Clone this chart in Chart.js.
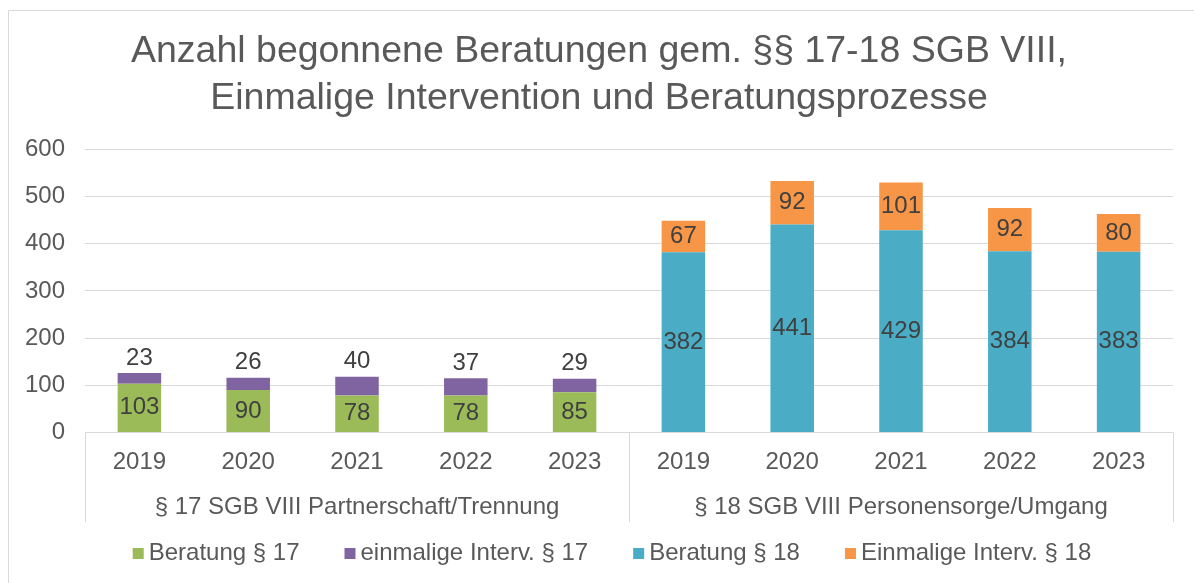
<!DOCTYPE html>
<html>
<head>
<meta charset="utf-8">
<script src="https://cdn.jsdelivr.net/npm/chart.js@4.4.0/dist/chart.umd.min.js"></script>
<style>
	html, body { margin: 0; padding: 0; background: #fff; }
	#wrap { width: 1194px; height: 583px; }
</style>
</head>
<body>
<div id="wrap"><canvas id="myChart" width="1194" height="583"></canvas></div>
<script>
const years = ["2019", "2020", "2021", "2022", "2023", "2019", "2020", "2021", "2022", "2023"];
const groups = ["§ 17 SGB VIII Partnerschaft/Trennung", "§ 18 SGB VIII Personensorge/Umgang"];
const beratung17 = [103, 90, 78, 78, 85, null, null, null, null, null];
const interv17 = [23, 26, 40, 37, 29, null, null, null, null, null];
const beratung18 = [null, null, null, null, null, 382, 441, 429, 384, 383];
const interv18 = [null, null, null, null, null, 67, 92, 101, 92, 80];
const titleLines = ["Anzahl begonnene Beratungen gem. §§ 17-18 SGB VIII,", "Einmalige Intervention und Beratungsprozesse"];

const FONT = "'Liberation Sans', Arial, sans-serif";
const GREY = "#595959";

// white background and the light frame (top and left edge only)
const frame = {
	id: "frame",
	beforeDraw(chart) {
		const ctx = chart.ctx;
		ctx.save();
		ctx.fillStyle = "#fff";
		ctx.fillRect(0, 0, chart.width, chart.height);
		ctx.strokeStyle = "#d9d9d9";
		ctx.lineWidth = 1;
		ctx.beginPath();
		ctx.moveTo(8.5, chart.height);
		ctx.lineTo(8.5, 10.5);
		ctx.lineTo(chart.width, 10.5);
		ctx.stroke();
		ctx.restore();
	},
};

// vertical separators of the two-level category axis
const separators = {
	id: "separators",
	afterDraw(chart) {
		const ctx = chart.ctx;
		const x = chart.scales.x;
		const x2 = chart.scales.x2;
		const area = chart.chartArea;
		const mid = (x.getPixelForValue(4) + x.getPixelForValue(5)) / 2;
		ctx.save();
		ctx.strokeStyle = "#d9d9d9";
		ctx.lineWidth = 1;
		[area.left, mid, area.right].forEach((px) => {
			const p = Math.round(px) + 0.5;
			ctx.beginPath();
			ctx.moveTo(p, area.bottom);
			ctx.lineTo(p, x2.bottom);
			ctx.stroke();
		});
		ctx.restore();
	},
};

// value labels in (or above) the bar segments
const valueLabels = {
	id: "valueLabels",
	afterDatasetsDraw(chart) {
		const ctx = chart.ctx;
		ctx.save();
		ctx.font = "24px " + FONT;
		ctx.fillStyle = "#404040";
		ctx.textAlign = "center";
		ctx.textBaseline = "middle";
		chart.data.datasets.forEach((ds, i) => {
			const meta = chart.getDatasetMeta(i);
			meta.data.forEach((bar, j) => {
				const v = ds.data[j];
				if (v == null) return;
				const y = ds.labelAbove ? bar.y - 15 : (bar.y + bar.base) / 2;
				ctx.fillText(String(v), bar.x, y);
			});
		});
		ctx.restore();
	},
};

// legend row at the bottom
const legendRow = {
	id: "legendRow",
	afterDraw(chart) {
		const ctx = chart.ctx;
		ctx.save();
		ctx.font = "24px " + FONT;
		const box = 11, textGap = 5, itemGap = 45;
		const items = chart.data.datasets.map((ds) => ({
			text: ds.label,
			color: ds.backgroundColor,
			w: ctx.measureText(ds.label).width,
		}));
		const total = items.reduce((s, it) => s + box + textGap + it.w, 0) + itemGap * (items.length - 1);
		let x = chart.width / 2 + 15 - total / 2;
		const base = 560;
		ctx.textBaseline = "alphabetic";
		ctx.textAlign = "left";
		items.forEach((it) => {
			ctx.fillStyle = it.color;
			ctx.fillRect(x, base - 12, box, box);
			ctx.fillStyle = GREY;
			ctx.fillText(it.text, x + box + textGap, base);
			x += box + textGap + it.w + itemGap;
		});
		ctx.restore();
	},
};

const ctx = document.getElementById("myChart").getContext("2d");
new Chart(ctx, {
	type: "bar",
	data: {
		labels: years,
		datasets: [
			{ label: "Beratung § 17", data: beratung17, backgroundColor: "#9bbb59" },
			{ label: "einmalige Interv. § 17", data: interv17, backgroundColor: "#8064a2", labelAbove: true },
			{ label: "Beratung § 18", data: beratung18, backgroundColor: "#4bacc6" },
			{ label: "Einmalige Interv. § 18", data: interv18, backgroundColor: "#f79646" },
		],
	},
	options: {
		responsive: false,
		animation: false,
		categoryPercentage: 1,
		barPercentage: 0.4,
		layout: { padding: { top: 10, left: 25, right: 21, bottom: 61 } },
		plugins: {
			legend: { display: false },
			tooltip: { enabled: false },
			title: {
				display: true,
				text: titleLines,
				color: GREY,
				font: { family: FONT, size: 37.5, weight: "normal", lineHeight: 1.26 },
				padding: { top: 18, bottom: 27 },
			},
		},
		scales: {
			x: {
				stacked: true,
				grid: { display: false, drawTicks: false },
				border: { display: false },
				ticks: { color: GREY, font: { family: FONT, size: 24 }, padding: 16, autoSkip: false, maxRotation: 0 },
			},
			x2: {
				type: "category",
				labels: groups,
				position: "bottom",
				offset: true,
				grid: { display: false, drawTicks: false },
				border: { display: false },
				ticks: { color: GREY, font: { family: FONT, size: 24 }, padding: 0, autoSkip: false, maxRotation: 0 },
			},
			y: {
				stacked: true,
				min: 0,
				max: 600,
				grid: { color: "#d9d9d9", drawTicks: false },
				border: { display: false },
				ticks: { stepSize: 100, color: GREY, font: { family: FONT, size: 24 }, padding: 20 },
				// labels sit 20px left of the plot; no padding on their left side
				afterFit(scale) {
					scale.width = 60;
				},
			},
		},
	},
	plugins: [frame, separators, valueLabels, legendRow],
});
</script>
</body>
</html>
